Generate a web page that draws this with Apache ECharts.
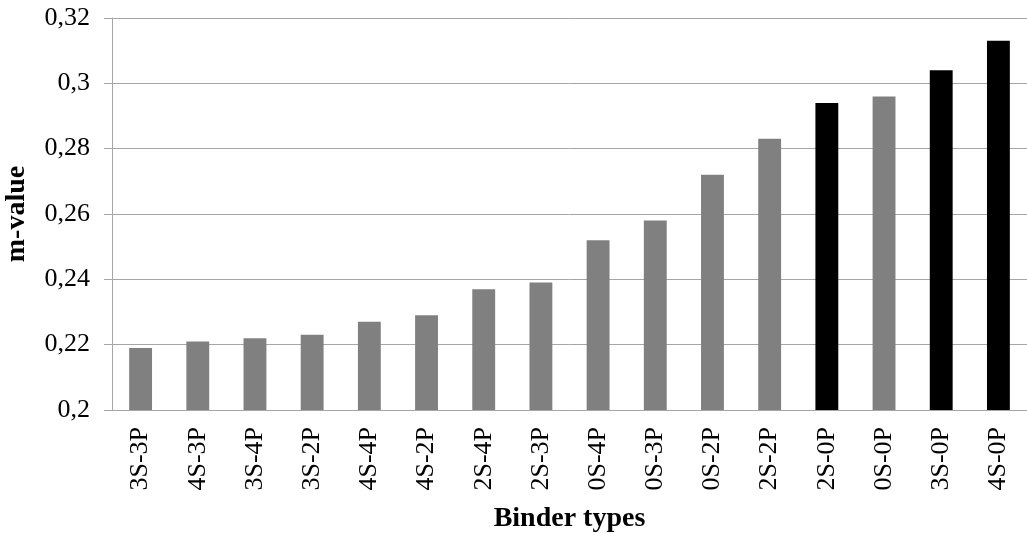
<!DOCTYPE html>
<html><head><meta charset="utf-8">
<script src="https://cdn.jsdelivr.net/npm/echarts@6/dist/echarts.min.js"></script>
<style>html,body{margin:0;padding:0;background:#fff}#c{width:1027px;height:533px}</style>
</head><body><div id="c"></div>
<script>
const categories = ['3S-3P','4S-3P','3S-4P','3S-2P','4S-4P','4S-2P','2S-4P','2S-3P','0S-4P','0S-3P','0S-2P','2S-2P','2S-0P','0S-0P','3S-0P','4S-0P'];
const values = [0.219,0.221,0.222,0.223,0.227,0.229,0.237,0.239,0.252,0.258,0.272,0.283,0.294,0.296,0.304,0.313];
const highlighted = ['2S-0P','3S-0P','4S-0P'];
const yTicks = [0.2,0.22,0.24,0.26,0.28,0.3,0.32];

const font = '"Liberation Serif","Times New Roman",serif';
const chart = echarts.init(document.getElementById('c'), null, {renderer:'canvas'});
chart.setOption({
  animation:false,
  grid:{left:112,right:0,top:18,bottom:123,outerBoundsMode:'none',containLabel:false},
  xAxis:{
    type:'category', data:categories,
    axisLine:{lineStyle:{color:'#a6a6a6',width:1}},
    axisTick:{show:false},
    axisLabel:{rotate:90,fontFamily:font,fontSize:26,color:'#000',margin:17},
    name:'Binder types', nameLocation:'middle', nameGap:95,
    nameTextStyle:{fontFamily:font,fontSize:28,fontWeight:'bold',color:'#000'}
  },
  yAxis:{
    type:'value', min:0.2, max:0.32, interval:0.02,
    axisLine:{show:true,lineStyle:{color:'#a6a6a6',width:1}},
    axisTick:{show:true,length:8,lineStyle:{color:'#a6a6a6'}},
    splitLine:{lineStyle:{color:'#a6a6a6',width:1}},
    axisLabel:{fontFamily:font,fontSize:26,color:'#000',margin:22,
      formatter:v=>{const t=yTicks.find(x=>Math.abs(x-v)<1e-9);return String(+(t??v).toFixed(2)).replace('.',',');}},
    name:'m-value', nameLocation:'middle', nameGap:81,
    nameTextStyle:{fontFamily:font,fontSize:28,fontWeight:'bold',color:'#000'}
  },
  series:[{
    type:'bar', barWidth:'40%',
    data:categories.map((c,i)=>({value:values[i],itemStyle:{color:highlighted.includes(c)?'#000000':'#808080'}}))
  }]
});
</script></body></html>
